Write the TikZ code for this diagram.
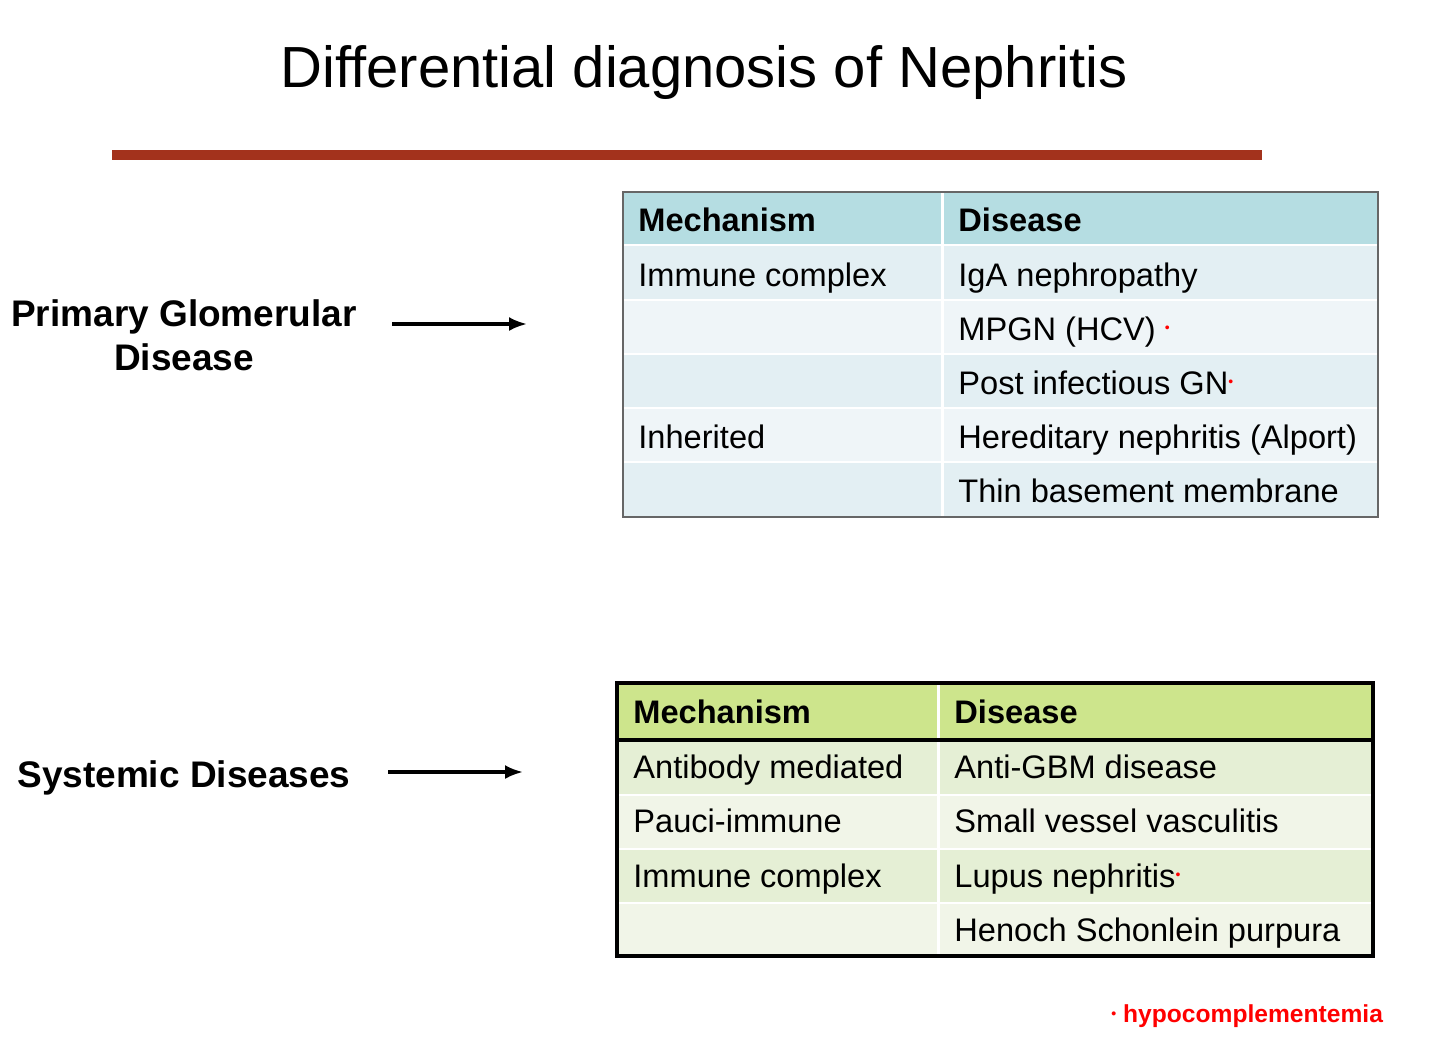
\documentclass[tikz,border=0pt]{standalone}
\usepackage{fontspec}
\setmainfont{Liberation Sans}
\usetikzlibrary{positioning,arrows.meta}
\definecolor{rust}{HTML}{A3321C}
\definecolor{tealhead}{HTML}{B5DDE2}
\definecolor{bluerowA}{HTML}{E3EFF3}
\definecolor{bluerowB}{HTML}{EFF5F8}
\definecolor{greenhead}{HTML}{CDE58C}
\definecolor{greenrowA}{HTML}{E5EFD5}
\definecolor{greenrowB}{HTML}{F1F5E8}
\tikzset{
  cell/.style={anchor=base west,inner sep=0pt,font=\fontsize{16.3}{18}\selectfont},
  head/.style={anchor=base west,inner sep=0pt,font=\fontsize{16.3}{18}\selectfont\bfseries},
  side/.style={align=center,font=\fontsize{18.5}{22}\selectfont\bfseries},
  pointer/.style={-{Latex[length=9pt,width=7pt]},line width=1.6pt}
}
\newcommand{\hypo}{{\color{red}\raisebox{0.45ex}{\scriptsize\textbullet}}}
\begin{document}
\begin{tikzpicture}[x=0.5pt,y=-0.5pt]
\useasboundingbox (0,0) rectangle (1440,1051);
% title
\node (title) at (704,72) {\fontsize{29}{33}\selectfont Differential diagnosis of Nephritis};
\draw[rust,line width=5pt] (112,155) -- (1262,155);

% PRIMARY table
\fill[tealhead] (623,192) rectangle (1378,245);
\fill[bluerowA] (623,245) rectangle (1378,300);
\fill[bluerowB] (623,300) rectangle (1378,354);
\fill[bluerowA] (623,354) rectangle (1378,408);
\fill[bluerowB] (623,408) rectangle (1378,462);
\fill[bluerowA] (623,462) rectangle (1378,517);
\foreach \y in {245,300,354,408,462} \draw[white,line width=1pt] (623,\y) -- (1378,\y);
\draw[white,line width=1.5pt] (942,192) -- (942,517);
\draw[gray!80!black,line width=0.8pt] (623,192) rectangle (1378,517);
\node[head] (pmech) at (638,231) {Mechanism};
\node[head] (pdis) at (958,231) {Disease};
\node[cell] (pm1) at (638,286) {Immune complex};
\node[cell] (pm2) at (638,448) {Inherited};
\node[cell] (pd1) at (958,286) {IgA nephropathy};
\node[cell] (pd2) at (958,340) {MPGN (HCV) \hypo};
\node[cell] (pd3) at (958,394) {Post infectious GN\hypo};
\node[cell] (pd4) at (958,448) {Hereditary nephritis (Alport)};
\node[cell] (pd5) at (958,502) {Thin basement membrane};

% SYSTEMIC table
\fill[greenhead] (617,683) rectangle (1373,740);
\fill[greenrowA] (617,740) rectangle (1373,795);
\fill[greenrowB] (617,795) rectangle (1373,849);
\fill[greenrowA] (617,849) rectangle (1373,903);
\fill[greenrowB] (617,903) rectangle (1373,956);
\foreach \y in {795,849,903} \draw[white,line width=1pt] (617,\y) -- (1373,\y);
\draw[white,line width=1.5pt] (938,683) -- (938,956);
\draw[line width=1.8pt] (617,740) -- (1373,740);
\draw[line width=1.8pt] (617,683) rectangle (1373,956);
\node[head] (smech) at (633,723) {Mechanism};
\node[head] (sdis) at (954,723) {Disease};
\node[cell] (sm1) at (633,778) {Antibody mediated};
\node[cell] (sm2) at (633,832) {Pauci-immune};
\node[cell] (sm3) at (633,887) {Immune complex};
\node[cell] (sd1) at (954,778) {Anti-GBM disease};
\node[cell] (sd2) at (954,832) {Small vessel vasculitis};
\node[cell] (sd3) at (954,887) {Lupus nephritis\hypo};
\node[cell] (sd4) at (954,941) {Henoch Schonlein purpura};

% side labels and arrows
\node[side] (primary) at (184,335) {Primary Glomerular\\Disease};
\node[side] (systemic) at (184,778) {Systemic Diseases};
\coordinate (pa) at (392,324); \coordinate (pb) at (527,324);
\coordinate (sa) at (388,772); \coordinate (sb) at (523,772);
\draw[pointer] (pa) -- (pb);
\draw[pointer] (sa) -- (sb);

% footnote
\node[anchor=east,text=red,font=\fontsize{12.3}{14}\selectfont\bfseries] (note) at (1390,1016) {\raisebox{0.3ex}{\scriptsize\textbullet}\ hypocomplementemia};
\end{tikzpicture}
\end{document}
